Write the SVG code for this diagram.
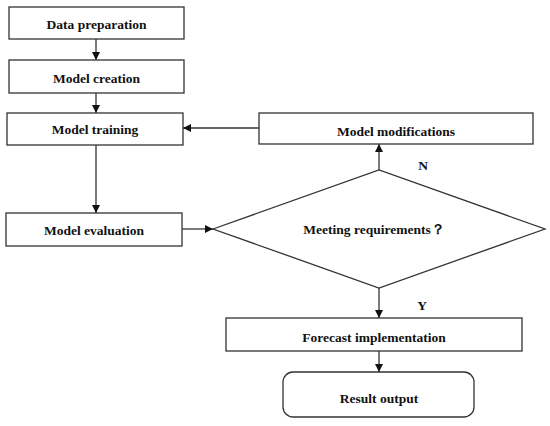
<svg xmlns="http://www.w3.org/2000/svg" width="550" height="426" viewBox="0 0 550 426">
<defs>
<style>
.box{fill:#fff;stroke:#333;stroke-width:1.3}
.lbl{font-family:"Liberation Serif","Times New Roman",serif;font-weight:bold;font-size:13.5px;fill:#111;text-anchor:middle;dominant-baseline:central}
.edge{fill:none;stroke:#333;stroke-width:1.3}
</style>
<marker id="arr" viewBox="0 0 10 10" refX="10" refY="5" markerWidth="8" markerHeight="8" markerUnits="userSpaceOnUse" orient="auto">
<path d="M0,0 L10,5 L0,10 z" fill="#111"/>
</marker>
</defs>
<rect width="550" height="426" fill="#fff"/>
<g id="connectors">
<line class="edge" x1="96" y1="39" x2="96" y2="60" marker-end="url(#arr)"/>
<line class="edge" x1="96" y1="93" x2="96" y2="113" marker-end="url(#arr)"/>
<line class="edge" x1="96" y1="145" x2="96" y2="213" marker-end="url(#arr)"/>
<line class="edge" x1="182" y1="229" x2="213" y2="229" marker-end="url(#arr)"/>
<line class="edge" x1="379" y1="170" x2="379" y2="144" marker-end="url(#arr)"/>
<line class="edge" x1="259" y1="128" x2="183" y2="128" marker-end="url(#arr)"/>
<line class="edge" x1="379" y1="288" x2="379" y2="318" marker-end="url(#arr)"/>
<line class="edge" x1="379" y1="351" x2="379" y2="372" marker-end="url(#arr)"/>
<text class="lbl" x="423" y="165">N</text>
<text class="lbl" x="422" y="305">Y</text>
</g>
<g id="data-preparation">
<rect class="box" x="9" y="7" width="175" height="32"/>
<text class="lbl" x="96.5" y="24">Data preparation</text>
</g>
<g id="model-creation">
<rect class="box" x="9" y="60" width="175" height="33"/>
<text class="lbl" x="96.5" y="78">Model creation</text>
</g>
<g id="model-training">
<rect class="box" x="7" y="113" width="176" height="32"/>
<text class="lbl" x="95" y="129">Model training</text>
</g>
<g id="model-evaluation">
<rect class="box" x="6" y="213" width="176" height="33"/>
<text class="lbl" x="94" y="230">Model evaluation</text>
</g>
<g id="model-modifications">
<rect class="box" x="259" y="113" width="274" height="31"/>
<text class="lbl" x="396" y="131">Model modifications</text>
</g>
<g id="meeting-requirements">
<polygon class="box" points="213,229 379,170 545,229 379,288"/>
<text class="lbl" x="374" y="229">Meeting requirements？</text>
</g>
<g id="forecast-implementation">
<rect class="box" x="226" y="318" width="296" height="33"/>
<text class="lbl" x="374" y="337">Forecast implementation</text>
</g>
<g id="result-output">
<rect class="box" x="283" y="372" width="191" height="45" rx="10" ry="10"/>
<text class="lbl" x="379" y="398">Result output</text>
</g>
</svg>
